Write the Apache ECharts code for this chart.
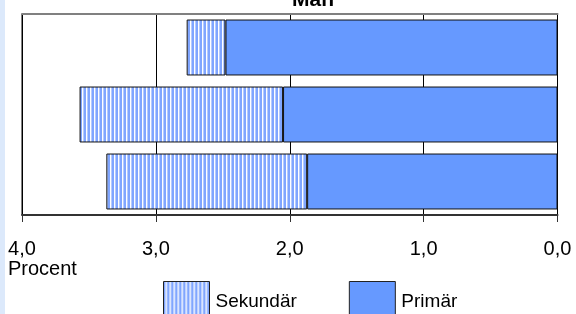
<!DOCTYPE html>
<html><head><meta charset="utf-8">
<script src="https://cdn.jsdelivr.net/npm/echarts@6/dist/echarts.min.js"></script>
<style>html,body{margin:0;padding:0;background:#fff}#c{width:576px;height:314px}</style>
</head><body><div id="c"></div>
<script>
const categories = ['A', 'B', 'C'];
const primar = [2.48, 2.05, 1.87];
const sekundar = [0.29, 1.52, 1.50];
const xTicks = [0, 1, 2, 3, 4];

const FONT = "'Liberation Sans', Arial, sans-serif";

// vertical stripe pattern
const pc = document.createElement('canvas');
pc.width = 4; pc.height = 4;
const px = pc.getContext('2d');
const cols = ['#80a6ff', '#80a6ff', '#ffffff', '#b5cbfe'];
cols.forEach((c, i) => { px.fillStyle = c; px.fillRect(i, 0, 1, 4); });

const chart = echarts.init(document.getElementById('c'), null, {renderer: 'canvas'});
chart.setOption({
  animation: false,
  backgroundColor: '#ffffff',
  title: {
    text: 'Män', left: 308, top: -15, textAlign: 'center',
    textStyle: {fontFamily: FONT, fontSize: 21, fontWeight: 'bold', color: '#000'}
  },
  grid: {left: 22, right: 18.5, top: 14, bottom: 99, show: true, borderColor: '#000', borderWidth: 1, backgroundColor: 'transparent'},
  xAxis: [{
    type: 'value', min: 0, max: 4, interval: 1, inverse: true, position: 'bottom',
    axisLine: {show: true, lineStyle: {color: '#333', width: 2}},
    axisTick: {show: true, length: 7, lineStyle: {color: '#333', width: 1}},
    splitLine: {show: true, lineStyle: {color: '#000', width: 1}},
    axisLabel: {margin: 24, fontFamily: FONT, fontSize: 20, color: '#000',
      formatter: v => v.toFixed(1).replace('.', ',')}
  }, {
    type: 'value', min: 0, max: 4, interval: 1, inverse: true, position: 'top',
    axisLine: {show: true, lineStyle: {color: '#808080', width: 2}},
    axisTick: {show: false}, axisLabel: {show: false}, splitLine: {show: false}
  }],
  yAxis: {
    type: 'category', data: categories, inverse: true,
    axisLine: {show: false}, axisTick: {show: false}, axisLabel: {show: false}
  },
  legend: {
    left: 163, top: 281, padding: 0, itemWidth: 46, itemHeight: 40, itemGap: 52,
    icon: 'rect',
    itemStyle: {borderColor: '#222', borderWidth: 1},
    data: ['Sekundär', 'Primär'],
    textStyle: {fontFamily: FONT, fontSize: 19, color: '#000', padding: [0, 0, 0, 1]}
  },
  series: [{
    name: 'Primär', type: 'bar', stack: 's', data: primar, barCategoryGap: '16.5%',
    itemStyle: {color: '#6699ff', borderColor: '#111', borderWidth: 1}
  }, {
    name: 'Sekundär', type: 'bar', stack: 's', data: sekundar,
    itemStyle: {color: {image: pc, repeat: 'repeat'}, borderColor: '#111', borderWidth: 1}
  }],
  graphic: [
    {type: 'rect', left: 0, top: 0, shape: {width: 5, height: 314}, style: {fill: '#dce9fb'}},
    {type: 'text', left: 8, top: 259, style: {text: 'Procent', fontFamily: FONT, fontSize: 20, fill: '#000'}}
  ]
});
</script></body></html>
